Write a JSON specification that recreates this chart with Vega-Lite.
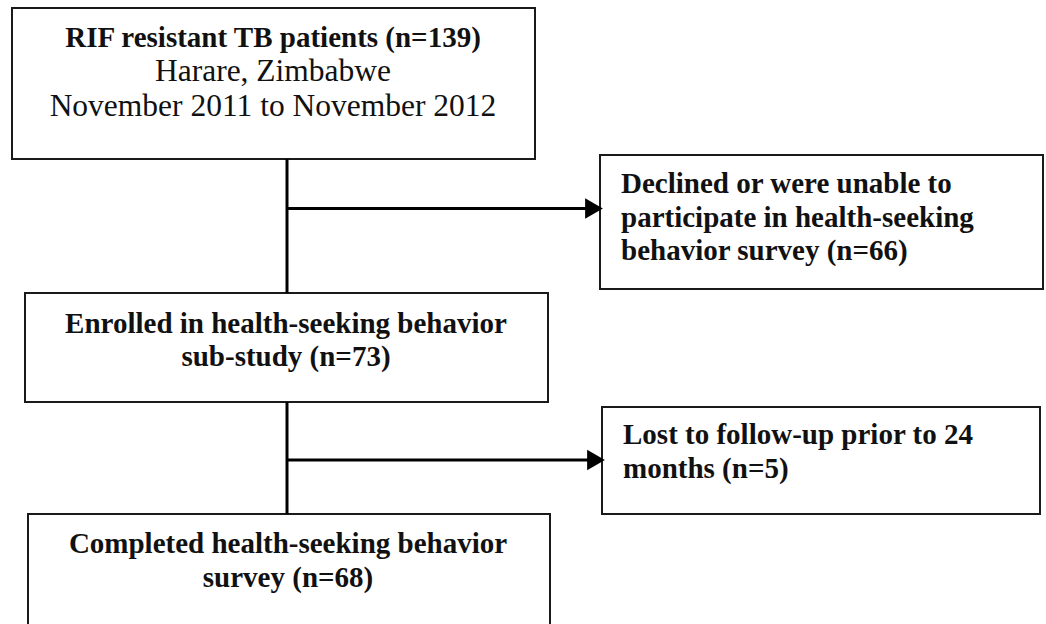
{
  "$schema": "https://vega.github.io/schema/vega-lite/v6.json",
  "width": 1046,
  "height": 624,
  "autosize": {"type": "fit", "contains": "padding"},
  "padding": 0,
  "background": "white",
  "config": {"view": {"stroke": null}},
  "datasets": {
    "boxes": [
      {"id": "start", "x": 12, "x2": 535, "y": 8, "y2": 159},
      {"id": "declined", "x": 600, "x2": 1043, "y": 155, "y2": 289},
      {"id": "enrolled", "x": 25, "x2": 548, "y": 293, "y2": 402},
      {"id": "lost", "x": 602, "x2": 1040, "y": 407, "y2": 514},
      {"id": "completed", "x": 28, "x2": 550, "y": 514, "y2": 660}
    ],
    "links": [
      {"x": 287, "y": 159, "x2": 287, "y2": 293},
      {"x": 287, "y": 208.5, "x2": 590, "y2": 208.5},
      {"x": 287, "y": 402, "x2": 287, "y2": 514},
      {"x": 287, "y": 460, "x2": 592, "y2": 460}
    ],
    "heads": [
      {"x": 594, "y": 208.5},
      {"x": 596, "y": 460}
    ],
    "labels": [
      {"side": "main", "kind": "heading", "text": "RIF resistant TB patients (n=139)", "x": 273, "y": 47},
      {"side": "main", "kind": "detail", "text": "Harare, Zimbabwe", "x": 273, "y": 81},
      {"side": "main", "kind": "detail", "text": "November 2011 to November 2012", "x": 273, "y": 116},
      {"side": "main", "kind": "heading", "text": "Enrolled in health-seeking behavior", "x": 286, "y": 333},
      {"side": "main", "kind": "heading", "text": "sub-study (n=73)", "x": 286, "y": 366},
      {"side": "main", "kind": "heading", "text": "Completed health-seeking behavior", "x": 288, "y": 553},
      {"side": "main", "kind": "heading", "text": "survey (n=68)", "x": 288, "y": 587},
      {"side": "excluded", "kind": "heading", "text": "Declined or were unable to", "x": 621, "y": 193},
      {"side": "excluded", "kind": "heading", "text": "participate in health-seeking", "x": 621, "y": 227},
      {"side": "excluded", "kind": "heading", "text": "behavior survey (n=66)", "x": 621, "y": 260},
      {"side": "excluded", "kind": "heading", "text": "Lost to follow-up prior to 24", "x": 623, "y": 444},
      {"side": "excluded", "kind": "heading", "text": "months (n=5)", "x": 623, "y": 478}
    ]
  },
  "layer": [
    {
      "data": {"name": "boxes"},
      "mark": {"type": "rect", "fill": "white", "stroke": "#1a1a1a", "strokeWidth": 2, "clip": true},
      "encoding": {
        "x": {"field": "x", "type": "quantitative", "scale": {"domain": [0, 1046], "nice": false, "zero": false}, "axis": null},
        "x2": {"field": "x2"},
        "y": {"field": "y", "type": "quantitative", "scale": {"domain": [0, 624], "nice": false, "zero": false, "reverse": true}, "axis": null},
        "y2": {"field": "y2"}
      }
    },
    {
      "data": {"name": "links"},
      "mark": {"type": "rule", "stroke": "black", "strokeWidth": 3},
      "encoding": {
        "x": {"field": "x", "type": "quantitative"},
        "x2": {"field": "x2"},
        "y": {"field": "y", "type": "quantitative"},
        "y2": {"field": "y2"}
      }
    },
    {
      "data": {"name": "heads"},
      "mark": {"type": "point", "shape": "triangle-right", "filled": true, "fill": "black", "stroke": null, "size": 420, "opacity": 1},
      "encoding": {
        "x": {"field": "x", "type": "quantitative"},
        "y": {"field": "y", "type": "quantitative"}
      }
    },
    {
      "data": {"name": "labels"},
      "transform": [{"filter": "datum.side === 'main' && datum.kind === 'heading'"}],
      "mark": {"type": "text", "font": "Liberation Serif", "fontWeight": "bold", "fontSize": 29, "align": "center", "baseline": "alphabetic", "color": "#111111"},
      "encoding": {
        "x": {"field": "x", "type": "quantitative"},
        "y": {"field": "y", "type": "quantitative"},
        "text": {"field": "text"}
      }
    },
    {
      "data": {"name": "labels"},
      "transform": [{"filter": "datum.side === 'main' && datum.kind === 'detail'"}],
      "mark": {"type": "text", "font": "Liberation Serif", "fontSize": 31.5, "align": "center", "baseline": "alphabetic", "color": "#111111"},
      "encoding": {
        "x": {"field": "x", "type": "quantitative"},
        "y": {"field": "y", "type": "quantitative"},
        "text": {"field": "text"}
      }
    },
    {
      "data": {"name": "labels"},
      "transform": [{"filter": "datum.side === 'excluded'"}],
      "mark": {"type": "text", "font": "Liberation Serif", "fontWeight": "bold", "fontSize": 29, "align": "left", "baseline": "alphabetic", "color": "#111111"},
      "encoding": {
        "x": {"field": "x", "type": "quantitative"},
        "y": {"field": "y", "type": "quantitative"},
        "text": {"field": "text"}
      }
    }
  ]
}
